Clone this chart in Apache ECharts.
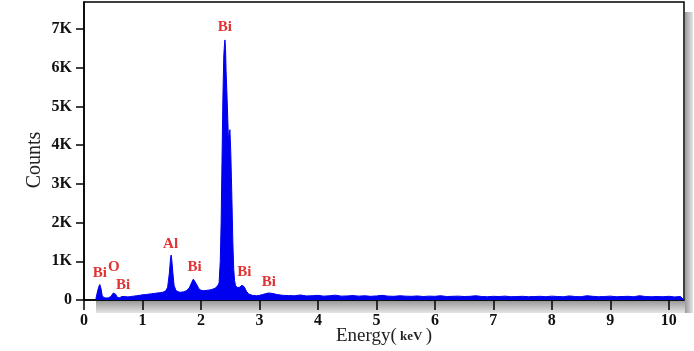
<!DOCTYPE html>
<html>
<head>
<meta charset="utf-8">
<script src="https://cdn.jsdelivr.net/npm/echarts@6/dist/echarts.min.js"></script>
<style>html,body{margin:0;padding:0;background:#fff}#c{width:694px;height:351px}</style>
</head>
<body>
<div id="c"></div>
<script>
// Energy (keV) and counts
var energy = [0.20,0.22,0.25,0.27,0.29,0.31,0.34,0.38,0.42,0.46,0.50,0.52,0.54,0.57,0.61,0.65,0.68,0.71,0.75,0.80,
  0.85,0.90,0.95,1.00,1.05,1.10,1.15,1.20,1.25,1.30,1.35,1.40,1.43,1.46,1.48,1.49,1.50,1.52,1.54,1.57,
  1.61,1.65,1.70,1.75,1.80,1.84,1.87,1.89,1.92,1.96,2.00,2.05,2.10,2.15,2.20,2.25,2.29,2.31,2.33,2.345,
  2.36,2.375,2.39,2.40,2.41,2.42,2.43,2.445,2.46,2.47,2.485,2.495,2.50,2.51,2.52,2.53,2.545,2.56,2.575,2.59,
  2.62,2.66,2.70,2.72,2.74,2.78,2.82,2.88,2.95,3.00,3.05,3.10,3.15,3.20,3.25,3.30,3.40,3.50,3.60,3.70,
  3.80,3.90,4.00,4.10,4.20,4.30,4.40,4.50,4.60,4.70,4.80,4.90,5.00,5.10,5.20,5.30,5.40,5.50,5.60,5.70,
  5.80,5.90,6.00,6.10,6.20,6.30,6.40,6.50,6.60,6.70,6.80,6.90,7.00,7.10,7.20,7.30,7.40,7.50,7.60,7.70,
  7.80,7.90,8.00,8.10,8.20,8.30,8.40,8.50,8.60,8.70,8.80,8.90,9.00,9.10,9.20,9.30,9.40,9.50,9.60,9.70,
  9.80,9.90,10.00,10.10,10.20,10.26];
var counts = [0,150,330,400,300,120,60,50,60,90,180,215,150,70,60,90,110,90,80,90,
  100,110,120,135,140,150,160,170,180,190,200,240,330,700,1080,1160,1050,700,380,250,
  210,200,210,240,310,450,540,530,420,300,250,240,250,260,280,310,380,440,1000,2000,
  3600,5200,6300,6550,6720,6500,5900,5300,4600,4150,4200,4400,4350,3800,3200,2550,1500,800,500,380,
  320,330,380,400,340,220,150,120,110,120,140,160,180,175,160,140,120,115,110,130,
  105,110,120,100,110,125,100,105,115,100,110,95,105,120,100,95,110,100,95,105,
  90,100,95,110,90,95,100,90,95,110,90,85,95,90,100,85,90,95,85,90,
  95,85,100,90,85,105,90,85,110,95,85,90,100,85,90,95,85,110,90,85,
  90,85,95,80,90,0];
// peak annotations
var peakText = ['Bi','O','Bi','Al','Bi','Bi','Bi','Bi'];
var peakX = [0.27,0.51,0.67,1.48,1.89,2.41,2.74,3.16];
var peakY = [700,840,390,1450,850,7060,720,450];
// axis ticks
var xTicks = [0,1,2,3,4,5,6,7,8,9,10];
var yTicks = [0,1000,2000,3000,4000,5000,6000,7000];

var spec = energy.map(function(e,i){return [e,counts[i]];});
var peaks = peakX.map(function(x,i){return {value:[x,peakY[i]],name:peakText[i]};});

var serif = '"Liberation Serif","Times New Roman",serif';
var chart = echarts.init(document.getElementById('c'), null, {renderer:'canvas'});
chart.setOption({
  animation:false,
  backgroundColor:'#fff',
  grid:{left:84,right:10,top:2,bottom:51,show:true,borderColor:'#000',borderWidth:1.5,backgroundColor:'transparent',
    containLabel:false,outerBoundsMode:'none'},
  graphic:[
    {type:'rect',z:-1,shape:{x:96,y:301,width:597,height:12},style:{fill:{type:'linear',x:0,y:0,x2:0,y2:1,colorStops:[{offset:0,color:'#9a9a9a'},{offset:1,color:'#e6e6e6'}]}}},
    {type:'rect',z:-1,shape:{x:685,y:12,width:8,height:301},style:{fill:{type:'linear',x:0,y:0,x2:1,y2:0,colorStops:[{offset:0,color:'#9a9a9a'},{offset:1,color:'#e6e6e6'}]}}},
    {type:'text',x:35,y:160,rotation:Math.PI/2,style:{text:'Counts',font:'20px '+serif,fill:'#222',align:'center',verticalAlign:'middle'}}
  ],
  xAxis:{type:'value',min:0,max:10.26,interval:1,
    name:'{a|Energy(}{b| keV }{a|)}',nameLocation:'middle',nameGap:27,nameMoveOverlap:false,
    nameTextStyle:{rich:{a:{fontFamily:serif,fontSize:19,color:'#222'},b:{fontFamily:serif,fontSize:13,fontWeight:'bold',color:'#222'}}},
    axisLine:{show:true,onZero:false,lineStyle:{color:'#000',width:1.5}},
    axisTick:{show:true,length:10,lineStyle:{color:'#000',width:1.5},customValues:xTicks},
    axisLabel:{fontFamily:serif,fontSize:16,fontWeight:'bold',color:'#111',margin:13,customValues:xTicks},
    splitLine:{show:false}},
  yAxis:{type:'value',min:0,max:7700,interval:1000,
    axisLine:{show:true,lineStyle:{color:'#000',width:1.5}},
    axisTick:{show:true,length:8,lineStyle:{color:'#000',width:1.5},customValues:yTicks},
    axisLabel:{fontFamily:serif,fontSize:16,fontWeight:'bold',color:'#111',margin:12,customValues:yTicks,
      formatter:function(v){return v===0?'0':(v/1000)+'K';}},
    splitLine:{show:false}},
  series:[
    {type:'line',data:spec,showSymbol:false,symbol:'none',
      lineStyle:{color:'#0000f0',width:1},areaStyle:{color:'#0000f0',opacity:1},z:3},
    {type:'scatter',data:peaks,symbolSize:0,z:5,
      label:{show:true,position:'inside',formatter:'{b}',fontFamily:serif,fontSize:15,fontWeight:'bold',color:'#d80000'}}
  ]
});
</script>
</body>
</html>
